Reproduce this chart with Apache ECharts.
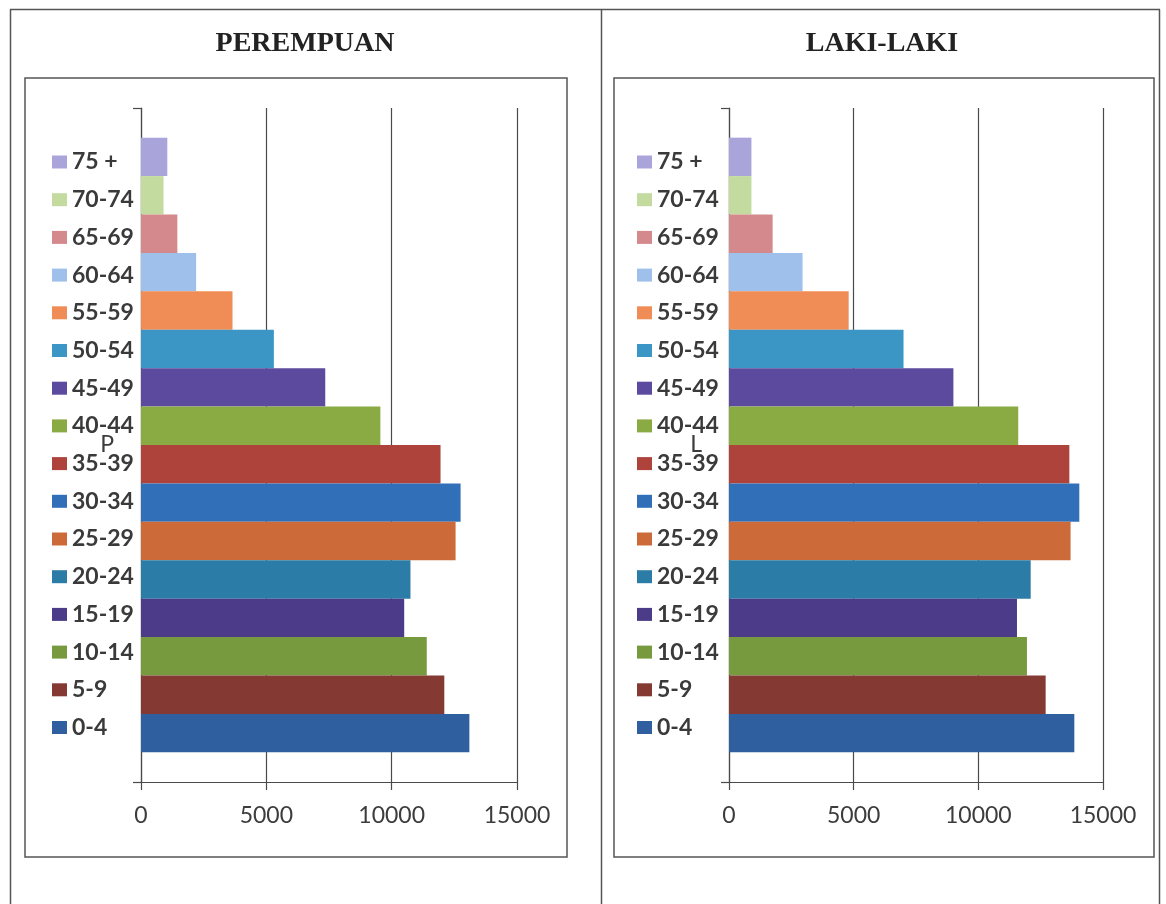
<!DOCTYPE html>
<html>
<head>
<meta charset="utf-8">
<title>Piramida Penduduk</title>
<script src="https://cdn.jsdelivr.net/npm/echarts@6/dist/echarts.min.js"></script>
<style>
  html, body { margin: 0; padding: 0; background: #fff; }
  #chart { width: 1166px; height: 904px; }
</style>
</head>
<body>
<div id="chart"></div>
<script>
// Age groups, youngest first
const ageGroups = ['0-4', '5-9', '10-14', '15-19', '20-24', '25-29', '30-34', '35-39',
                   '40-44', '45-49', '50-54', '55-59', '60-64', '65-69', '70-74', '75 +'];

// Population per age group
const perempuan = [13100, 12100, 11400, 10500, 10750, 12550, 12750, 11950,
                   9550, 7350, 5300, 3650, 2200, 1450, 900, 1050];
const lakiLaki  = [13850, 12700, 11950, 11550, 12100, 13700, 14050, 13650,
                   11600, 9000, 7000, 4800, 2950, 1750, 900, 900];

// One colour per age group
const groupColors = ['#2f5f9f', '#843a32', '#789a3e', '#4b3b88', '#2b7ca6', '#cc6a3a',
                     '#3170b8', '#ad433b', '#8aab44', '#5b4a9e', '#3b96c6', '#f08c55',
                     '#9fc0ea', '#d48a8c', '#c4dba0', '#a9a4da'];

// Axis ticks for the value axes
const valueTicks = { min: 0, max: 15000, interval: 5000 };

const panelTitles = ['PEREMPUAN', 'LAKI-LAKI'];
const panelCategories = ['P', 'L'];

const FONT = 'Lato, "Open Sans", sans-serif';
const LINE = '#4a4a4a';

const panels = [
  { values: perempuan, gridLeft: 141, gridWidth: 376, legendLeft: 52, titleX: 305 },
  { values: lakiLaki,  gridLeft: 729, gridWidth: 374, legendLeft: 637, titleX: 882 }
];

const grids = [], xAxes = [], yAxes = [], series = [], legends = [], graphics = [];

// Oldest group first so that it sits on top of the stack of bars and of the legend
const order = ageGroups.map((_, i) => ageGroups.length - 1 - i);

panels.forEach((p, k) => {
  grids.push({ left: p.gridLeft, width: p.gridWidth, top: 108, height: 674, containLabel: false });
  xAxes.push({
    type: 'value', gridIndex: k,
    min: valueTicks.min, max: valueTicks.max, interval: valueTicks.interval,
    axisLine: { show: true, lineStyle: { color: LINE, width: 1.2 } },
    axisTick: { show: true, length: 8, lineStyle: { color: LINE, width: 1.2 } },
    splitLine: { show: true, lineStyle: { color: LINE, width: 1.2 } },
    axisLabel: {
      fontFamily: FONT, fontSize: 23, color: '#3c3c3c', margin: 22,
      formatter: v => String(v)
    }
  });
  yAxes.push({
    type: 'category', gridIndex: k, data: [panelCategories[k]],
    axisLine: { show: true, lineStyle: { color: LINE, width: 1.2 } },
    axisTick: { show: true, length: 8, lineStyle: { color: LINE, width: 1.2 } },
    splitLine: { show: false },
    axisLabel: { fontFamily: FONT, fontSize: 23, color: '#3c3c3c', margin: 27 }
  });
  order.forEach(i => {
    series.push({
      type: 'bar', name: ageGroups[i],
      xAxisIndex: k, yAxisIndex: k,
      data: [p.values[i]],
      itemStyle: { color: groupColors[i] },
      barGap: '0%', barCategoryGap: '8.8%',
      emphasis: { disabled: true }
    });
  });
  legends.push({
    orient: 'vertical', left: p.legendLeft, top: 150, padding: 0,
    itemWidth: 15, itemHeight: 13, itemGap: 13.7, icon: 'rect',
    selectedMode: false,
    data: order.map(i => ageGroups[i]),
    textStyle: { fontFamily: FONT, fontSize: 23, fontWeight: 'bold', lineHeight: 24, color: '#3a3a3a' }
  });
  graphics.push({
    type: 'text', x: p.titleX, y: 44, z: 10,
    style: {
      text: panelTitles[k], x: 0, y: 0,
      font: 'bold 28px "Liberation Serif", "Times New Roman", serif',
      fill: '#222', textAlign: 'center', textVerticalAlign: 'middle'
    }
  });
});

// Panel frames and the surrounding table rules
const frameStyle = { fill: 'none', stroke: '#555', lineWidth: 1.5 };
graphics.push(
  { type: 'rect', shape: { x: 25, y: 78, width: 542, height: 779 }, style: frameStyle },
  { type: 'rect', shape: { x: 614, y: 78, width: 540, height: 779 }, style: frameStyle },
  { type: 'line', shape: { x1: 10, y1: 9.5, x2: 1160, y2: 9.5 }, style: { stroke: '#555', lineWidth: 1.5 } },
  { type: 'line', shape: { x1: 10.5, y1: 9.5, x2: 10.5, y2: 904 }, style: { stroke: '#555', lineWidth: 1.5 } },
  { type: 'line', shape: { x1: 601.5, y1: 9.5, x2: 601.5, y2: 904 }, style: { stroke: '#555', lineWidth: 1.5 } },
  { type: 'line', shape: { x1: 1159.5, y1: 9.5, x2: 1159.5, y2: 904 }, style: { stroke: '#555', lineWidth: 1.5 } }
);

const chart = echarts.init(document.getElementById('chart'), null, { renderer: 'canvas' });
chart.setOption({
  backgroundColor: '#fff',
  animation: false,
  grid: grids,
  xAxis: xAxes,
  yAxis: yAxes,
  legend: legends,
  tooltip: { show: false },
  series: series,
  graphic: graphics
});
</script>
</body>
</html>
